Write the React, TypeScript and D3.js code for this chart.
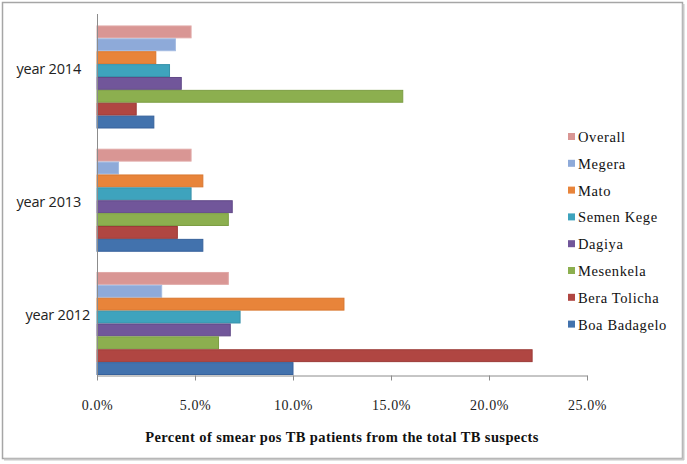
import React, { useEffect, useRef } from 'react'
import * as d3 from 'd3'

// data (percent)
const years = ['year 2014', 'year 2013', 'year 2012']
const sites = ['Overall', 'Megera', 'Mato', 'Semen Kege', 'Dagiya', 'Mesenkela', 'Bera Tolicha', 'Boa Badagelo']
const overall = [4.8, 4.8, 6.7]
const megera = [4.0, 1.1, 3.3]
const mato = [3.0, 5.4, 12.6]
const semenKege = [3.7, 4.8, 7.3]
const dagiya = [4.3, 6.9, 6.8]
const mesenkela = [15.6, 6.7, 6.2]
const beraTolicha = [2.0, 4.1, 22.2]
const boaBadagelo = [2.9, 5.4, 10.0]
const xTicks = [0, 5, 10, 15, 20, 25]

const seriesValues = [overall, megera, mato, semenKege, dagiya, mesenkela, beraTolicha, boaBadagelo]
const colors = ['#d99694', '#8eaad9', '#e8843a', '#3ea3bd', '#71569a', '#8caf4f', '#b04642', '#4272ad']
const strokes = ['#e0a8a6', '#a3bbe2', '#d9772f', '#3792aa', '#614887', '#7c9e44', '#9c3b38', '#36619b']

const serif = '"Liberation Serif", "Times New Roman", serif'

const App = () => {
  const svgRef = useRef<SVGSVGElement>(null)

  useEffect(() => {
    const svg = d3.select(svgRef.current)
    svg.selectAll('*').remove()

    const x = d3.scaleLinear().domain([0, 25]).range([97, 587])
    const y = d3.scaleBand().domain(years).range([14, 375])
      .paddingInner(0.164).paddingOuter(0.0465).align(1)
    const yInner = d3.scaleBand().domain(sites).range([0, y.bandwidth()])

    // frame
    svg.append('rect')
      .attr('x', 2.5).attr('y', 2.5).attr('width', 680).attr('height', 456)
      .attr('fill', '#fff').attr('stroke', '#a6a6a6').attr('stroke-width', 1.5)
    svg.append('line')
      .attr('x1', 683.5).attr('x2', 683.5).attr('y1', 4).attr('y2', 460)
      .attr('stroke', '#c8c8c8').attr('stroke-width', 2)
    svg.append('line')
      .attr('x1', 4).attr('x2', 684).attr('y1', 459.5).attr('y2', 459.5)
      .attr('stroke', '#c8c8c8').attr('stroke-width', 2)

    // bars
    const rows = years.flatMap((yr, i) => sites.map((s, j) => ({ yr, s, j, v: seriesValues[j][i] })))
    svg.append('g').selectAll('rect')
      .data(rows)
      .join('rect')
      .attr('x', x(0))
      .attr('y', d => (y(d.yr) as number) + (yInner(d.s) as number) + 0.5)
      .attr('width', d => x(d.v) - x(0))
      .attr('height', yInner.bandwidth() - 1)
      .attr('fill', d => colors[d.j])
      .attr('stroke', d => strokes[d.j])
      .attr('stroke-width', 1)

    // x axis
    const xAxis = svg.append('g').attr('transform', 'translate(0,375.5)')
      .call(d3.axisBottom(x).tickValues(xTicks).tickSize(5).tickSizeOuter(0)
        .tickFormat(d => `${(+d).toFixed(1)}%`))
    xAxis.attr('font-family', null)
    xAxis.select('.domain').attr('stroke', '#8c8c8c')
    xAxis.selectAll('.tick line').attr('stroke', '#8c8c8c')
    xAxis.selectAll('.tick text')
      .attr('y', 25)
      .attr('fill', '#222')
      .style('font-family', serif)
      .style('font-size', '14px')
      .style('letter-spacing', '0.6px')

    // y axis line
    svg.append('line')
      .attr('x1', 97.5).attr('x2', 97.5).attr('y1', 14).attr('y2', 376)
      .attr('stroke', '#8c8c8c')

    // category labels (Excel nudges them a little)
    const nudge = [[0, -8], [0, 2], [9, -9]]
    svg.append('g').selectAll('text')
      .data(years)
      .join('text')
      .attr('x', (d, i) => 81 + nudge[i][0])
      .attr('y', (d, i) => (y(d) as number) + y.bandwidth() / 2 + nudge[i][1])
      .attr('dy', '0.35em')
      .attr('text-anchor', 'end')
      .attr('fill', '#222')
      .style('font-family', '"Open Sans", sans-serif')
      .style('font-size', '14.5px')
      .style('letter-spacing', '-0.2px')
      .text(d => d)

    // axis title
    svg.append('text')
      .attr('x', (x(0) + x(25)) / 2)
      .attr('y', 442)
      .attr('text-anchor', 'middle')
      .attr('fill', '#111')
      .style('font-family', serif)
      .style('font-weight', 'bold')
      .style('font-size', '14.5px')
      .style('letter-spacing', '0.4px')
      .text('Percent of smear pos TB patients from the total TB suspects')

    // legend
    const legend = svg.append('g').selectAll('g')
      .data(sites)
      .join('g')
      .attr('transform', (d, i) => `translate(568,${137 + i * 26.8})`)
    legend.append('rect')
      .attr('x', 0).attr('y', -4).attr('width', 7).attr('height', 7)
      .attr('fill', (d, i) => colors[i])
    legend.append('text')
      .attr('x', 10)
      .attr('dy', '0.35em')
      .attr('fill', '#111')
      .style('font-family', serif)
      .style('font-size', '14.5px')
      .style('letter-spacing', '0.6px')
      .text(d => d)
  }, [])

  return (
    <svg ref={svgRef} width={687} height={464}
      style={{ position: 'absolute', left: 0, top: 0, background: '#fff' }} />
  )
}

export default App
